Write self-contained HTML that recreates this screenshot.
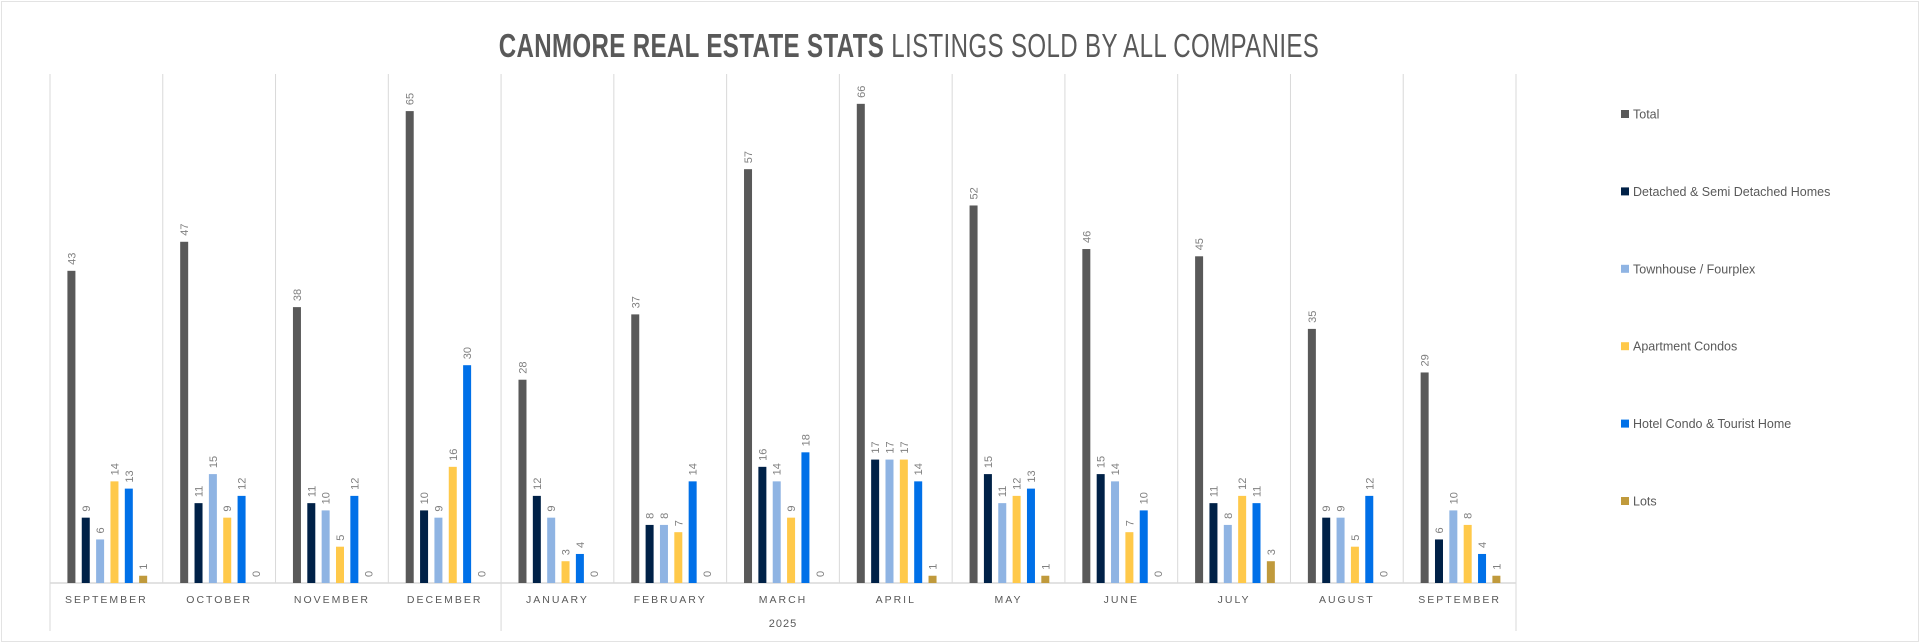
<!DOCTYPE html>
<html><head><meta charset="utf-8"><style>
html,body{margin:0;padding:0;background:#fff;}
svg{display:block;font-family:"Liberation Sans",sans-serif;}
</style></head><body>
<svg id="chart" width="1920" height="644" viewBox="0 0 1920 644" xmlns="http://www.w3.org/2000/svg">
<rect x="1.5" y="1.5" width="1917" height="640" fill="#fff" stroke="#e3e3e3" stroke-width="1"/>
<text x="909" y="57" text-anchor="middle" font-size="33" fill="#595959" letter-spacing="0.5" transform="translate(909,0) scale(0.73,1) translate(-909,0)"><tspan font-weight="bold">CANMORE REAL ESTATE STATS</tspan> LISTINGS SOLD BY ALL COMPANIES</text>
<g id="grid"></g><g id="bars"></g><g id="legend"></g>
</svg>
<script>
const categories=["SEPTEMBER","OCTOBER","NOVEMBER","DECEMBER","JANUARY","FEBRUARY","MARCH","APRIL","MAY","JUNE","JULY","AUGUST","SEPTEMBER"];
const seriesNames=["Total","Detached & Semi Detached Homes","Townhouse / Fourplex","Apartment Condos","Hotel Condo & Tourist Home","Lots"];
const total=[43,47,38,65,28,37,57,66,52,46,45,35,29];
const detached=[9,11,11,10,12,8,16,17,15,15,11,9,6];
const townhouse=[6,15,10,9,9,8,14,17,11,14,8,9,10];
const apartment=[14,9,5,16,3,7,9,17,12,7,12,5,8];
const hotel=[13,12,12,30,4,14,18,14,13,10,11,12,4];
const lots=[1,0,0,0,0,0,0,1,1,0,3,0,1];
const yearLabel="2025";
const series=[total,detached,townhouse,apartment,hotel,lots];
const colors=["#595959","#002147","#8fb4e3","#ffc94a","#0070e8","#c09a3c"];
const NS="http://www.w3.org/2000/svg";
const x0=50,x1=1516,base=583,pxPer=7.26;
const cw=(x1-x0)/categories.length;
const y=v=>base-v*pxPer;
const xc=i=>x0+cw*(i+0.5);
function mk(tag,attrs,parent){const e=document.createElementNS(NS,tag);for(const k in attrs)e.setAttribute(k,attrs[k]);parent.appendChild(e);return e;}
const grid=document.getElementById('grid'),bars=document.getElementById('bars'),leg=document.getElementById('legend');
for(let i=0;i<=categories.length;i++){
  const x=x0+cw*i; const long=(i===0||i===4||i===categories.length);
  const l=mk('line',{x1:x,x2:x,y1:74,y2:long?631:583,stroke:"#d9d9d9","stroke-width":1},grid);
  
  
}
const ax=mk('line',{x1:x0,x2:x1,y1:base,y2:base,stroke:"#d9d9d9","stroke-width":1.5},grid);


categories.forEach((c,i)=>{
  const t=mk('text',{x:xc(i),y:603,"text-anchor":"middle","font-size":10.5,fill:"#595959","letter-spacing":"2"},grid);
  t.textContent=c;
  
  
});
const yl=mk('text',{x:(x0+x1)/2,y:627,"text-anchor":"middle","font-size":11,fill:"#595959","letter-spacing":"1"},grid);
yl.textContent=yearLabel;


const slot=14.35,bw=8;
series.forEach((s,si)=>{
  s.forEach((v,i)=>{
    const cx=xc(i)+(si-2.5)*slot+0.9;
    const r=mk('rect',{x:cx-bw/2,y:y(v),width:bw,height:v*pxPer,fill:colors[si]},bars);
    
    
    const ty=y(v)-6;
    const t=mk('text',{x:cx+4,y:ty,"font-size":11,fill:"#7f7f7f",transform:`rotate(-90 ${cx+4} ${ty})`},bars);
    t.textContent=v;
    
    
  });
});
seriesNames.forEach((n,i)=>{
  const yy=114+i*77.4;
  const r=mk('rect',{x:1621,y:yy-4,width:8,height:8,fill:colors[i]},leg);
  
  
  const t=mk('text',{x:1633,y:yy+4.5,"font-size":12.5,fill:"#595959"},leg);
  t.textContent=n;
  
  
});
</script>
</body></html>
